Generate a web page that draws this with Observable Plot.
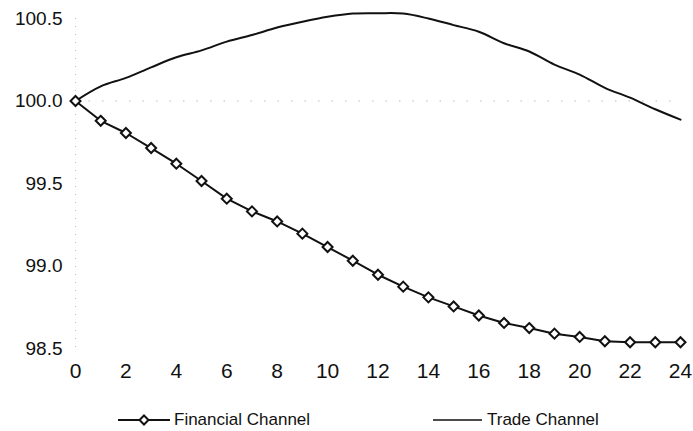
<!DOCTYPE html>
<html>
<head>
<meta charset="utf-8">
<script src="https://cdn.jsdelivr.net/npm/d3@7"></script>
<script src="https://cdn.jsdelivr.net/npm/@observablehq/plot@0.6"></script>
<style>
  html, body { margin: 0; padding: 0; background: #fff; width: 693px; height: 431px; overflow: hidden; }
  #chart { position: relative; width: 693px; height: 431px; font-family: "Liberation Sans", Arial, sans-serif; }
  #legend { position: absolute; left: 0; top: 409px; width: 693px; height: 22px; font-size: 17px; color: #111; }
  .item { position: absolute; top: 0; display: flex; align-items: center; height: 22px; white-space: nowrap; }
  .item svg { margin-right: 3px; }
</style>
</head>
<body>
<div id="chart"></div>
<script>
const months = [0,1,2,3,4,5,6,7,8,9,10,11,12,13,14,15,16,17,18,19,20,21,22,23,24];
const financialChannel = [100.0, 99.88, 99.806, 99.715, 99.62, 99.515, 99.408, 99.331, 99.27, 99.196, 99.115, 99.032, 98.947, 98.875, 98.81, 98.755, 98.70, 98.655, 98.624, 98.59, 98.57, 98.544, 98.538, 98.538, 98.538];
const tradeChannel = [100.0, 100.089, 100.14, 100.204, 100.265, 100.307, 100.36, 100.40, 100.445, 100.48, 100.51, 100.53, 100.532, 100.53, 100.50, 100.46, 100.42, 100.35, 100.30, 100.22, 100.16, 100.08, 100.02, 99.95, 99.887];
const xTicks = [0,2,4,6,8,10,12,14,16,18,20,22,24];
const yTicks = [98.5, 99.0, 99.5, 100.0, 100.5];
const seriesNames = ["Financial Channel", "Trade Channel"];

const fin = months.map((m, i) => ({month: m, value: financialChannel[i]}));
const trade = months.map((m, i) => ({month: m, value: tradeChannel[i]}));

const plot = Plot.plot({
  width: 693,
  height: 405,
  marginLeft: 75,
  marginRight: 13,
  marginTop: 18,
  marginBottom: 57,
  style: {fontFamily: "'Liberation Sans', Arial, sans-serif", color: "#111", background: "#fff"},
  x: {domain: [0, 24]},
  y: {domain: [98.5, 100.5]},
  marks: [
    Plot.ruleY([100], {stroke: "#bbb", strokeWidth: 1, strokeDasharray: "1.5,12"}),
    Plot.ruleX([0], {stroke: "#bbb", strokeWidth: 1, strokeDasharray: "1,7"}),
    Plot.axisX({ticks: xTicks, tickSize: 0, tickPadding: 15, fontSize: 21, label: null, tickFormat: d => String(d)}),
    Plot.axisY({ticks: yTicks, tickSize: 0, tickPadding: 13, fontSize: 19, label: null, tickFormat: d3.format(".1f")}),
    Plot.line(trade, {x: "month", y: "value", stroke: "#111", strokeWidth: 2, curve: "catmull-rom"}),
    Plot.line(fin, {x: "month", y: "value", stroke: "#111", strokeWidth: 2}),
    Plot.dot(fin, {x: "month", y: "value", symbol: "diamond2", r: 4.5, stroke: "#111", fill: "#fff", strokeWidth: 2})
  ]
});
document.getElementById("chart").appendChild(plot);

const legend = document.createElement("div");
legend.id = "legend";
legend.innerHTML = `
  <div class="item" style="left:117px">
    <svg width="54" height="14"><line x1="1" y1="7" x2="53" y2="7" stroke="#111" stroke-width="2"/>
      <path d="M27,2.5 L31.5,7 L27,11.5 L22.5,7 Z" fill="#fff" stroke="#111" stroke-width="2"/></svg>
    <span>${seriesNames[0]}</span>
  </div>
  <div class="item" style="left:432px">
    <svg width="52" height="14"><line x1="1" y1="7" x2="50" y2="7" stroke="#111" stroke-width="1.6"/></svg>
    <span>${seriesNames[1]}</span>
  </div>`;
document.getElementById("chart").appendChild(legend);
</script>
</body>
</html>
